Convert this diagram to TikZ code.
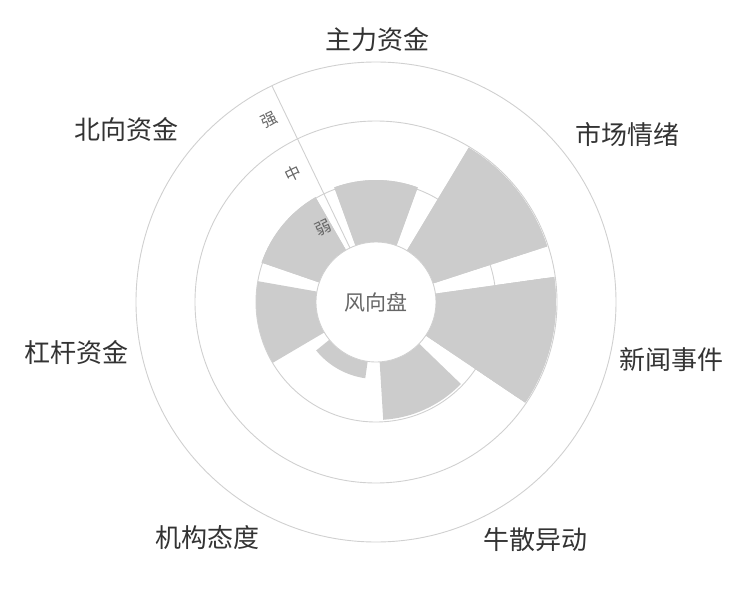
\documentclass[tikz,border=0pt]{standalone}
\usepackage{fontspec}
\newfontfamily\cjk{Noto Sans CJK SC}
\definecolor{bargray}{HTML}{CCCCCC}
\definecolor{gridgray}{HTML}{D0D0D0}
\definecolor{labtxt}{HTML}{333333}
\definecolor{ticktxt}{HTML}{666666}
\begin{document}
\begin{tikzpicture}[x=1pt,y=1pt,
  grid/.style={draw=gridgray,line width=0.9pt},
  bar/.style={fill=bargray},
  catlab/.style={font=\cjk\fontsize{26}{30}\selectfont,text=labtxt},
  ticklab/.style={font=\cjk\fontsize{16}{18}\selectfont,text=ticktxt,rotate=25.7}]
\useasboundingbox (-376,-298) rectangle (374,302);
% sectors: start angle, end angle, inner r, outer r
\foreach \a/\b/\ro in {70/110/122, 18/59/180, -34/8/180, -86.5/-44/118, 219/262/77, 170/210.5/120, 120/161/121}{
  \fill[bar] (\a:60) arc[start angle=\a,end angle=\b,radius=60] -- (\b:\ro) arc[start angle=\b,end angle=\a,radius=\ro] -- cycle;
}
\draw[grid] (0,0) circle[radius=120];
\draw[grid] (0,0) circle[radius=181];
\draw[grid] (0,0) circle[radius=240];
\draw[grid,fill=white] (0,0) circle[radius=60];
% redraw bars over the 120 circle where hidden
\foreach \a/\b/\ro in {70/110/122, 18/59/180, -34/8/180, 120/161/121}{
  \fill[bar] (\a:61) arc[start angle=\a,end angle=\b,radius=61] -- (\b:\ro) arc[start angle=\b,end angle=\a,radius=\ro] -- cycle;
}
\fill[bar] (-34:121) arc[start angle=-34,end angle=8,radius=121] -- (8:170) arc[start angle=8,end angle=-34,radius=170] -- cycle;
\draw[grid] (115.7:60) -- (115.7:240);
\node[ticklab] (t1) at (125.6:91) {弱};
\node[ticklab] (t2) at (122.8:153) {中};
\node[ticklab] (t3) at (120.4:211) {强};
\node[font=\cjk\fontsize{21}{24}\selectfont,text=ticktxt] (c) at (0,0) {风向盘};
\node[catlab] (l1) at (2,262) {主力资金};
\node[catlab] (l2) at (251,167) {市场情绪};
\node[catlab] (l3) at (295,-58) {新闻事件};
\node[catlab] (l4) at (160,-238) {牛散异动};
\node[catlab] (l5) at (-168,-236) {机构态度};
\node[catlab] (l6) at (-299,-51) {杠杆资金};
\node[catlab] (l7) at (-249,172) {北向资金};
\end{tikzpicture}
\end{document}
